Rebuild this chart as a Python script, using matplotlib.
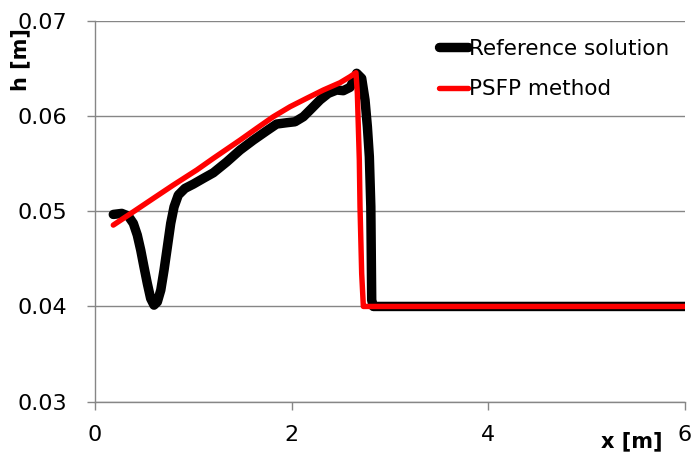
import matplotlib
matplotlib.use("Agg")
import matplotlib.pyplot as plt

# Reference solution (black)
ref_x = [0.186, 0.272, 0.339, 0.390, 0.430, 0.465, 0.498, 0.532, 0.566, 0.600, 0.634,
         0.669, 0.702, 0.736, 0.770, 0.804, 0.847, 0.915, 1.000, 1.101, 1.203, 1.339,
         1.475, 1.610, 1.746, 1.847, 1.950, 2.034, 2.119, 2.204, 2.288, 2.373, 2.458,
         2.525, 2.593, 2.634, 2.661, 2.712, 2.746, 2.770, 2.790, 2.805, 2.814, 2.830, 6.0]
ref_h = [0.04968, 0.04979, 0.04951, 0.04874, 0.04751, 0.04593, 0.04417, 0.04242, 0.04084,
         0.04014, 0.04048, 0.04172, 0.04382, 0.04627, 0.04874, 0.05048, 0.05172, 0.05242,
         0.05287, 0.05347, 0.05406, 0.05520, 0.05645, 0.05750, 0.05848, 0.05919, 0.05933,
         0.05943, 0.05996, 0.06084, 0.06172, 0.06242, 0.06277, 0.06270, 0.06305, 0.06382,
         0.06453, 0.06400, 0.06172, 0.05890, 0.05575, 0.05050, 0.04067, 0.04000, 0.04000]

# PSFP method (red)
psfp_x = [0.186, 0.390, 0.593, 0.796, 1.034, 1.203, 1.475, 1.644, 1.813, 1.983, 2.153,
          2.322, 2.492, 2.593, 2.654, 2.668, 2.678, 2.688, 2.695, 2.712, 2.729, 2.763, 6.0]
psfp_h = [0.04856, 0.04996, 0.05137, 0.05277, 0.05435, 0.05558, 0.05750, 0.05874, 0.05996,
          0.06101, 0.06190, 0.06277, 0.06354, 0.06417, 0.06459, 0.06242, 0.05890, 0.05540,
          0.05050, 0.04347, 0.04000, 0.04000, 0.04000]

x_ticks = [0, 2, 4, 6]
x_ticklabels = ["0", "2", "4", "6"]
y_ticks = [0.03, 0.04, 0.05, 0.06, 0.07]
y_ticklabels = ["0.03", "0.04", "0.05", "0.06", "0.07"]

W, H = 699, 458
fig = plt.figure(figsize=(W / 100, H / 100), dpi=100)
ax = fig.add_axes([95 / W, 1 - 401.5 / H, (685 - 95) / W, (401.5 - 21.3) / H])

gray = "#868686"
ax.plot(ref_x, ref_h, color="black", lw=6.8, solid_capstyle="round",
        solid_joinstyle="round", label="Reference solution", zorder=3)
ax.plot(psfp_x, psfp_h, color="#ff0000", lw=3.9, solid_capstyle="round",
        solid_joinstyle="round", label="PSFP method", zorder=4)

ax.set_xlim(0, 6)
ax.set_ylim(0.03, 0.07)
ax.set_xticks(x_ticks)
ax.set_xticklabels(x_ticklabels)
ax.set_yticks(y_ticks)
ax.set_yticklabels(y_ticklabels)

for s in ["top", "right"]:
    ax.spines[s].set_visible(False)
for s in ["left", "bottom"]:
    ax.spines[s].set_color(gray)
    ax.spines[s].set_linewidth(1.0)

ax.yaxis.grid(True, color=gray, lw=1.0)
ax.set_axisbelow(True)
ax.tick_params(axis="both", direction="out", length=6, width=1.0, color=gray,
               labelsize=16, labelcolor="black")
ax.tick_params(axis="y", pad=14)
ax.tick_params(axis="x", pad=11)

fig.text(20 / W, 1 - 60 / H, "h [m]", rotation=90, fontsize=15, fontweight="bold",
         ha="center", va="center")
fig.text(632 / W, 1 - 441 / H, "x [m]", fontsize=15, fontweight="bold",
         ha="center", va="center")

leg = ax.legend(loc="upper left", bbox_to_anchor=(439 / W, 1 - 39 / H),
                bbox_transform=fig.transFigure, frameon=False, fontsize=15.5,
                handlelength=1.35, handletextpad=0.05, labelspacing=0.95,
                borderaxespad=0, borderpad=0)

fig.savefig("out.png", dpi=100)
